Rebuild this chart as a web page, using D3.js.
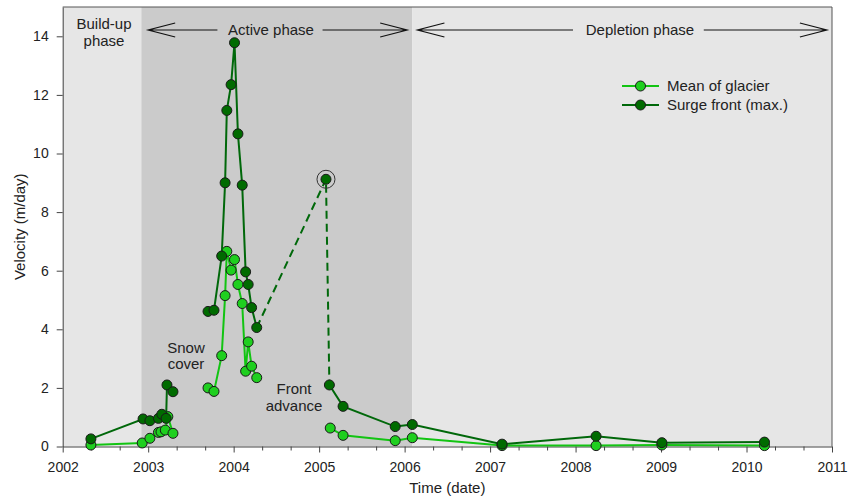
<!DOCTYPE html>
<html>
<head>
<meta charset="utf-8">
<script src="https://cdn.jsdelivr.net/npm/d3@7"></script>
<style>
    body { margin: 0; background: #fff; }
    svg { display: block; font-family: Arial, "Liberation Sans", sans-serif; }
</style>
</head>
<body>
<div id="chart"></div>
<script>
// Mean of glacier, three pieces (gaps = no data)
const meanTimeA = [2002.33, 2002.93, 2003.02, 2003.12, 2003.15, 2003.20, 2003.23, 2003.29];
const meanVelA  = [0.05, 0.12, 0.28, 0.48, 0.50, 0.56, 1.02, 0.45];
const meanTimeB = [2003.70, 2003.77, 2003.86, 2003.90, 2003.92, 2003.97, 2004.01, 2004.05, 2004.10, 2004.14, 2004.17, 2004.21, 2004.27];
const meanVelB  = [2.00, 1.88, 3.10, 5.15, 6.66, 6.02, 6.38, 5.53, 4.88, 2.57, 3.57, 2.74, 2.35];
const meanTimeC = [2005.13, 2005.28, 2005.89, 2006.09, 2007.14, 2008.24, 2009.01, 2010.21];
const meanVelC  = [0.63, 0.38, 0.20, 0.30, 0.03, 0.03, 0.05, 0.03];

// Surge front (max.)
const surgeTimeA = [2002.33, 2002.94, 2003.02, 2003.12, 2003.16, 2003.21, 2003.22, 2003.29];
const surgeVelA  = [0.26, 0.94, 0.88, 0.96, 1.10, 0.96, 2.10, 1.87];
const surgeTimeB = [2003.70, 2003.77, 2003.86, 2003.90, 2003.92, 2003.97, 2004.01, 2004.05, 2004.10, 2004.14, 2004.17, 2004.21, 2004.27];
const surgeVelB  = [4.61, 4.65, 6.50, 9.00, 11.47, 12.35, 13.78, 10.67, 8.92, 5.96, 5.53, 4.74, 4.06];
const surgeTimeGap = [2004.27, 2005.08, 2005.12]; // dashed part
const surgeVelGap  = [4.06, 9.12, 2.10];
const surgeTimeC = [2005.12, 2005.28, 2005.89, 2006.09, 2007.14, 2008.24, 2009.01, 2010.21];
const surgeVelC  = [2.10, 1.37, 0.68, 0.75, 0.08, 0.35, 0.13, 0.15];

// phases
const phaseStart = [2002, 2002.92, 2006.09];
const phaseEnd   = [2002.92, 2006.09, 2011];
const phaseShade = ["#e6e6e6", "#cbcbcb", "#e6e6e6"];

const xTicks = d3.range(2002, 2012);
const yTicks = d3.range(0, 15, 2);

const width = 851, height = 499;
const plotLeft = 62.7, plotRight = 832, plotTop = 7, plotBottom = 446.5;
const fontSize = 15;

const svg = d3.select("#chart").append("svg")
    .attr("width", width)
    .attr("height", height);

const x = d3.scaleLinear().domain([2002, 2011]).range([plotLeft, plotRight]);
const y = d3.scaleLinear().domain([0, 15]).range([plotBottom, plotTop]);

const lightGreen = "#1fcf1f", lightLine = "#12c412";
const darkGreen = "#006b00", darkLine = "#00680a";

// background bands
svg.selectAll(".phase")
    .data(phaseStart)
    .join("rect")
    .attr("x", (d, i) => x(d))
    .attr("y", plotTop)
    .attr("width", (d, i) => x(phaseEnd[i]) - x(d))
    .attr("height", plotBottom - plotTop)
    .attr("fill", (d, i) => phaseShade[i]);

// frame top/right
svg.append("path")
    .attr("d", `M${plotLeft},${plotTop}H${plotRight}V${plotBottom}`)
    .attr("fill", "none")
    .attr("stroke", "#555");

// axes
svg.append("g")
    .attr("transform", `translate(0,${plotBottom})`)
    .call(d3.axisBottom(x).tickValues(xTicks).tickFormat(d3.format("d")).tickSize(6).tickSizeOuter(0).tickPadding(10));
svg.append("g")
    .attr("transform", `translate(0,${plotBottom})`)
    .call(d3.axisBottom(x).tickValues(d3.range(2002, 2011, 1 / 3).filter(d => Math.abs(d - Math.round(d)) > 0.01)).tickFormat("").tickSize(4).tickSizeOuter(0))
    .call(g => g.select(".domain").remove());
svg.append("g")
    .attr("transform", `translate(${plotLeft},0)`)
    .call(d3.axisLeft(y).tickValues(yTicks).tickSize(6).tickSizeOuter(0).tickPadding(8));

svg.selectAll(".domain, .tick line").attr("stroke", "#444");
svg.selectAll(".tick text").attr("font-size", 14).attr("fill", "#222")
    .attr("font-family", "Arial, 'Liberation Sans', sans-serif");

svg.append("text")
    .attr("x", (plotLeft + plotRight) / 2)
    .attr("y", 493)
    .attr("text-anchor", "middle")
    .attr("font-size", fontSize)
    .attr("fill", "#222")
    .text("Time (date)");

svg.append("text")
    .attr("transform", `translate(25,${(plotTop + plotBottom) / 2}) rotate(-90)`)
    .attr("text-anchor", "middle")
    .attr("font-size", fontSize)
    .attr("fill", "#222")
    .text("Velocity (m/day)");

// series
const line = d3.line().x(d => x(d[0])).y(d => y(d[1]));
const zip = (a, b) => a.map((t, i) => [t, b[i]]);

function drawLine(pts, color, dashed) {
    svg.append("path")
        .attr("d", line(pts))
        .attr("fill", "none")
        .attr("stroke", color)
        .attr("stroke-width", 2)
        .attr("stroke-dasharray", dashed ? "8,5" : null);
}

function drawDots(pts, color) {
    svg.append("g").selectAll("circle")
        .data(pts)
        .join("circle")
        .attr("cx", d => x(d[0]))
        .attr("cy", d => y(d[1]))
        .attr("r", 5)
        .attr("fill", color)
        .attr("stroke", "#1a1a1a")
        .attr("stroke-width", 1);
}

const meanParts = [zip(meanTimeA, meanVelA), zip(meanTimeB, meanVelB), zip(meanTimeC, meanVelC)];
const surgeParts = [zip(surgeTimeA, surgeVelA), zip(surgeTimeB, surgeVelB), zip(surgeTimeC, surgeVelC)];
const surgeGap = zip(surgeTimeGap, surgeVelGap);

meanParts.forEach(p => drawLine(p, lightLine));
meanParts.forEach(p => drawDots(p, lightGreen));

surgeParts.forEach(p => drawLine(p, darkLine));
drawLine(surgeGap, darkLine, true);
surgeParts.forEach(p => drawDots(p, darkGreen));
drawDots([surgeGap[1]], darkGreen);

// ring around the odd point
svg.append("circle")
    .attr("cx", x(surgeGap[1][0]))
    .attr("cy", y(surgeGap[1][1]))
    .attr("r", 9)
    .attr("fill", "none")
    .attr("stroke", "#333")
    .attr("stroke-width", 1);

// phase labels and arrows
function addText(tx, ty, str, anchor) {
    svg.append("text")
        .attr("x", tx)
        .attr("y", ty)
        .attr("text-anchor", anchor || "middle")
        .attr("font-size", fontSize)
        .attr("fill", "#222")
        .text(str);
}

function arrow(x0, x1, yy) {
    // tip at x1
    const dir = x1 > x0 ? 1 : -1;
    svg.append("path")
        .attr("d", `M${x0},${yy}H${x1}M${x1 - dir * 27},${yy - 7}L${x1},${yy}L${x1 - dir * 27},${yy + 7}`)
        .attr("fill", "none")
        .attr("stroke", "#111")
        .attr("stroke-width", 1.2);
}

addText(104, 29, "Build-up");
addText(104, 46, "phase");

addText(271, 35, "Active phase");
arrow(x(2003.81), x(2003.0), 30);
arrow(x(2005.04), x(2006.03), 30);

addText(640, 35, "Depletion phase");
arrow(x(2007.97), x(2006.15), 30);
arrow(x(2009.5), x(2010.94), 30);

addText(186, 353, "Snow");
addText(186, 369, "cover");
addText(294, 394, "Front");
addText(294, 411, "advance");

// legend
const legendNames = ["Mean of glacier", "Surge front (max.)"];
const legendColors = [[lightLine, lightGreen], [darkLine, darkGreen]];
legendNames.forEach((name, i) => {
    const ly = 86 + i * 19;
    svg.append("line")
        .attr("x1", 622).attr("x2", 659)
        .attr("y1", ly).attr("y2", ly)
        .attr("stroke", legendColors[i][0])
        .attr("stroke-width", 2);
    svg.append("circle")
        .attr("cx", 640.5).attr("cy", ly).attr("r", 5)
        .attr("fill", legendColors[i][1])
        .attr("stroke", "#1a1a1a");
    addText(667, ly + 5, name, "start");
});
</script>
</body>
</html>
